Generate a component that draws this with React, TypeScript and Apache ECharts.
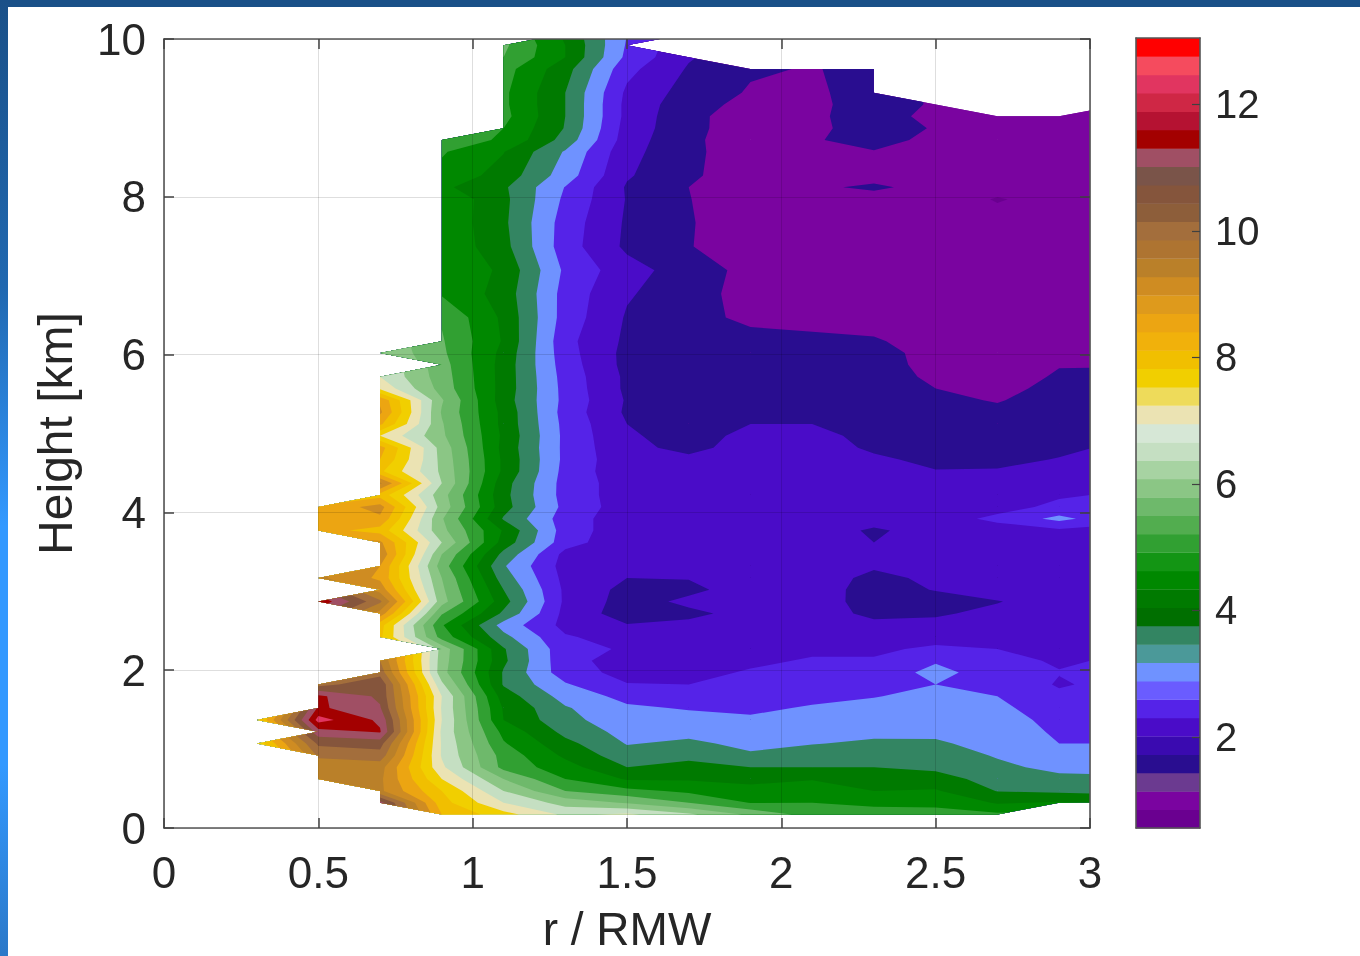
import React, { useEffect, useRef } from "react";
import * as echarts from "echarts";

const N = null;

// radial positions (r / RMW) of the data columns
const rCols = [0.3, 0.5, 0.7, 0.9, 1.1, 1.3, 1.5, 1.7, 1.9, 2.1, 2.3, 2.5, 2.7, 2.9, 3.1];

// heights (km) of the data rows
const zRows = [
  0.17, 0.32, 0.47, 0.62, 0.77, 0.92, 1.07, 1.22, 1.37, 1.52, 1.67, 1.82, 1.97, 2.12, 2.27, 2.42, 2.57, 2.72, 2.87, 3.02,
  3.17, 3.32, 3.47, 3.62, 3.77, 3.92, 4.07, 4.22, 4.37, 4.52, 4.67, 4.82, 4.97, 5.12, 5.27, 5.42, 5.57, 5.72, 5.87, 6.02,
  6.17, 6.47, 6.77, 7.07, 7.37, 7.67, 7.97, 8.12, 8.27, 8.57, 8.72, 8.87, 9.02, 9.17, 9.32, 9.62, 9.77, 9.92, 10.07,
];

// field values, one row per height
const fieldValues: (number | null)[][] = [
  [N, N, N, 8.5, 7.7, 6.9, 7.1, 6.6, 5.9, 5.3, 5.2, 5.15, 5.1, N, N],
  [N, N, 11.2, 8.2, 7.0, 6.3, 5.95, 5.5, 4.98, 5.0, 4.9, 4.9, 4.45, 4.55, 4.4],
  [N, N, 9.6, 8.0, 6.5, 5.5, 5.15, 4.9, 4.68, 4.75, 4.5, 4.55, 3.98, 3.9, 3.85],
  [N, 10.0, 9.6, 7.5, 6.0, 5.0, 4.45, 4.45, 4.35, 4.47, 4.25, 4.2, 3.8, 3.62, 3.58],
  [N, 9.7, 9.7, 7.1, 5.35, 4.7, 4.0, 4.15, 4.0, 4.0, 4.0, 3.9, 3.6, 3.38, 3.35],
  [N, 10.1, 10.3, 6.95, 5.3, 4.4, 3.7, 3.88, 3.57, 3.73, 3.78, 3.75, 3.46, 3.25, 3.2],
  [7.6, 10.6, 10.7, 6.95, 5.05, 4.15, 3.47, 3.6, 3.37, 3.48, 3.57, 3.55, 3.37, 3.0, 3.0],
  [N, 11.3, 11.55, 6.9, 4.85, 3.85, 3.33, 3.36, 3.2, 3.33, 3.4, 3.42, 3.28, 2.92, 2.9],
  [7.8, 12.2, 11.4, 7.0, 4.5, 3.65, 3.2, 3.17, 3.06, 3.2, 3.27, 3.3, 3.2, 2.85, 2.82],
  [N, 11.6, 11.05, 6.95, 4.45, 3.55, 3.08, 2.96, 2.92, 3.04, 3.13, 3.22, 3.1, 2.75, 2.75],
  [N, 11.6, 10.9, 7.0, 4.25, 3.3, 2.85, 2.72, 2.8, 2.9, 2.98, 3.12, 3.0, 2.6, 2.7],
  [N, 10.3, 10.9, 6.6, 3.95, 3.05, 2.52, 2.5, 2.67, 2.8, 2.85, 3.0, 2.88, 2.45, 2.65],
  [N, N, 10.3, 6.2, 3.95, 2.72, 2.35, 2.35, 2.55, 2.67, 2.7, 3.15, 2.75, 2.52, 2.6],
  [N, N, 10.0, 6.25, 4.1, 2.65, 2.3, 2.25, 2.4, 2.55, 2.55, 2.95, 2.63, 2.45, 2.55],
  [N, N, N, 6.3, 4.05, 2.65, 2.45, 2.2, 2.25, 2.4, 2.4, 2.6, 2.5, 2.35, 2.4],
  [N, N, 8.1, 5.3, 3.65, 2.55, 2.3, 2.2, 2.2, 2.25, 2.2, 2.3, 2.25, 2.2, 2.2],
  [N, N, 8.2, 5.05, 3.3, 2.35, 2.03, 2.1, 2.2, 2.2, 2.15, 2.1, 2.15, 2.2, 2.2],
  [N, N, 9.3, 5.55, 3.9, 2.35, 1.75, 1.9, 2.15, 2.3, 1.85, 1.95, 2.1, 2.2, 2.2],
  [N, 11.9, 10.1, 6.2, 4.2, 2.4, 1.8, 2.1, 2.2, 2.35, 1.7, 1.75, 1.98, 2.2, 2.25],
  [N, N, 9.3, 6.1, 4.0, 2.4, 1.85, 1.9, 2.2, 2.3, 1.75, 2.03, 2.2, 2.25, 2.25],
  [N, 9.6, 8.9, 6.0, 3.75, 2.35, 2.0, 2.02, 2.1, 2.2, 1.9, 2.08, 2.2, 2.25, 2.25],
  [N, N, 9.0, 5.75, 3.55, 2.3, 2.1, 2.1, 2.15, 2.15, 2.05, 2.1, 2.25, 2.25, 2.25],
  [N, N, 9.4, 6.0, 3.85, 2.35, 2.15, 2.1, 2.15, 2.2, 2.15, 2.1, 2.25, 2.3, 2.3],
  [N, N, 9.1, 6.5, 4.3, 2.7, 2.15, 2.2, 2.2, 2.2, 2.0, 2.15, 2.3, 2.35, 2.35],
  [N, 8.7, 8.3, 6.15, 4.45, 2.75, 2.2, 2.2, 2.25, 2.25, 1.93, 2.2, 2.3, 2.4, 2.4],
  [N, 8.8, 8.9, 6.05, 3.95, 2.75, 2.2, 2.25, 2.25, 2.25, 2.2, 2.3, 2.6, 3.15, 2.6],
  [N, 8.6, 9.2, 6.3, 4.2, 2.85, 2.25, 2.3, 2.3, 2.3, 2.25, 2.3, 2.35, 2.6, 2.55],
  [N, N, 8.3, 6.2, 4.15, 2.8, 2.25, 2.3, 2.3, 2.3, 2.3, 2.3, 2.3, 2.45, 2.55],
  [N, N, 9.6, 6.5, 4.2, 2.8, 2.25, 2.25, 2.3, 2.3, 2.3, 2.2, 2.2, 2.3, 2.3],
  [N, N, 8.1, 6.4, 4.4, 2.83, 2.15, 2.15, 2.2, 2.25, 2.2, 2.02, 2.05, 2.2, 2.3],
  [N, N, 8.5, 6.35, 4.4, 2.87, 2.15, 2.08, 2.25, 2.25, 2.07, 1.9, 1.85, 2.03, 2.25],
  [N, N, 8.7, 6.3, 4.35, 2.87, 2.1, 1.9, 2.15, 2.2, 1.93, 1.85, 1.8, 1.88, 2.1],
  [N, N, 7.5, 6.1, 4.4, 2.87, 2.05, 1.85, 2.1, 2.1, 1.9, 1.82, 1.78, 1.8, 1.9],
  [N, N, 8.6, 6.05, 4.35, 2.85, 2.0, 1.87, 2.0, 2.0, 1.85, 1.75, 1.72, 1.78, 1.85],
  [N, N, 9.1, 5.95, 4.35, 2.8, 1.92, 1.85, 1.8, 1.75, 1.7, 1.65, 1.6, 1.72, 1.8],
  [N, N, 8.9, 6.05, 4.25, 2.85, 1.95, 1.82, 1.77, 1.72, 1.65, 1.6, 1.47, 1.7, 1.75],
  [N, N, 7.4, 5.8, 4.3, 2.83, 1.9, 1.78, 1.72, 1.67, 1.62, 1.5, 1.38, 1.62, 1.7],
  [N, N, 7.0, 5.75, 4.3, 2.8, 1.9, 1.75, 1.7, 1.65, 1.62, 1.45, 1.3, 1.55, 1.58],
  [N, N, N, 5.7, 4.3, 2.75, 1.85, 1.72, 1.68, 1.62, 1.6, 1.42, 1.22, 1.48, 1.48],
  [N, N, 6.45, 5.6, 4.35, 2.7, 1.85, 1.72, 1.65, 1.6, 1.6, 1.4, 1.2, 1.3, 1.3],
  [N, N, N, 5.55, 4.45, 2.65, 1.9, 1.75, 1.65, 1.6, 1.55, 1.3, 1.2, 1.2, 1.2],
  [N, N, N, 5.45, 4.4, 2.78, 1.95, 1.65, 1.4, 1.35, 1.3, 1.2, 1.1, 1.1, 1.1],
  [N, N, N, 4.95, 4.3, 2.8, 2.05, 1.72, 1.3, 1.2, 1.1, 1.1, 1.1, 1.1, 1.1],
  [N, N, N, 4.95, 4.4, 2.9, 2.2, 1.75, 1.35, 1.2, 1.1, 1.1, 1.1, 1.1, 1.1],
  [N, N, N, 4.9, 4.17, 2.73, 1.9, 1.53, 1.15, 1.1, 1.1, 1.1, 1.1, 1.1, 1.1],
  [N, N, N, 4.9, 4.1, 2.77, 1.93, 1.55, 1.1, 1.1, 1.1, 1.1, 1.1, 1.1, 1.1],
  [N, N, N, 4.9, 4.13, 2.9, 1.97, 1.52, 1.1, 1.15, 1.2, 1.15, 0.98, 1.1, 1.1],
  [N, N, N, 4.6, 4.08, 2.98, 1.95, 1.5, 1.1, 1.38, 1.62, 1.25, 1.1, 1.1, 1.1],
  [N, N, N, 4.85, 4.3, 3.25, 2.05, 1.62, 1.1, 1.15, 1.25, 1.1, 1.1, 1.1, 1.1],
  [N, N, N, 5.05, 4.52, 3.45, 2.16, 1.62, 1.2, 1.3, 1.47, 1.2, 1.15, 1.15, 1.15],
  [N, N, N, 5.2, 4.95, 3.8, 2.25, 1.59, 1.25, 1.45, 1.7, 1.35, 1.2, 1.2, 1.2],
  [N, N, N, N, 5.0, 3.97, 2.29, 1.65, 1.2, 1.35, 1.8, 1.45, 1.25, 1.25, 1.25],
  [N, N, N, N, 5.15, 4.0, 2.35, 1.63, 1.25, 1.38, 1.8, 1.3, 1.25, 1.25, 1.25],
  [N, N, N, N, 5.1, 4.0, 2.35, 1.7, 1.35, 1.4, 1.7, 1.45, N, N, 1.25],
  [N, N, N, N, 5.1, 4.0, 2.4, 1.8, 1.45, 1.42, 1.7, N, N, N, N],
  [N, N, N, N, 5.2, 4.2, 2.65, 1.95, 1.56, 1.47, 1.65, N, N, N, N],
  [N, N, N, N, 5.5, 4.5, 2.88, 2.05, N, N, N, N, N, N, N],
  [N, N, N, N, 5.6, 4.5, 2.95, N, N, N, N, N, N, N, N],
  [N, N, N, N, N, 4.4, 3.0, 2.6, N, N, N, N, N, N, N],
];

// filled-contour levels and the colour of the band that starts at each one
const contourLevels = [0.5, 1, 1.5, 2, 2.5, 3, 3.5, 4, 4.5, 5, 5.5, 6, 6.5, 7, 7.5, 8, 8.5, 9, 9.5, 10, 10.5, 11, 11.5, 12, 12.5];
const contourColors = [
  "#6a0090", "#7a04a0", "#290d90", "#4a0cc8", "#5523e8", "#6f92ff", "#338562", "#007a00", "#008800", "#31a032",
  "#6eb96b", "#8bc685", "#c5dfc2", "#ebe3b3", "#f1cf00", "#f1bf00", "#eca512", "#cf8c22", "#ba8029", "#a36e3c",
  "#85553c", "#a04f64", "#a30000", "#e13560", "#f54b5e",
];

// colour bar, bottom to top
const colorbarColors = [
  "#6a0090", "#7a04a0", "#6b3a90", "#290d90", "#3a0ab0", "#4a0cc8", "#5523e8", "#6a5cff", "#6f92ff", "#4b9999",
  "#338562", "#006f00", "#007a00", "#008800", "#139514", "#31a032", "#52ad4f", "#6eb96b", "#8bc685", "#a7d3a2",
  "#c5dfc2", "#d6e7d6", "#ebe3b3", "#eedb5a", "#f1cf00", "#f1bf00", "#f1b10b", "#eca512", "#de9a1c", "#cf8c22",
  "#ba8029", "#ae7431", "#a36e3c", "#8d5e3a", "#85553c", "#7a5449", "#a04f64", "#a30000", "#b51232", "#cf2745",
  "#e13560", "#f54b5e", "#ff0000",
];
const colorbarMin = 0.56;
const colorbarMax = 13.05;
const colorbarTicks = [2, 4, 6, 8, 10, 12];

type P = { r: number; z: number; v: number };

function clipAbove(poly: P[], level: number): P[] {
  const out: P[] = [];
  for (let i = 0; i < poly.length; i++) {
    const a = poly[i];
    const b = poly[(i + 1) % poly.length];
    const aIn = a.v >= level;
    const bIn = b.v >= level;
    if (aIn) out.push(a);
    if (aIn !== bIn) {
      const t = (level - a.v) / (b.v - a.v);
      out.push({ r: a.r + t * (b.r - a.r), z: a.z + t * (b.z - a.z), v: level });
    }
  }
  return out;
}

function cellPolygons(): P[][] {
  const cells: P[][] = [];
  for (let j = 0; j < zRows.length - 1; j++) {
    for (let i = 0; i < rCols.length - 1; i++) {
      const corners: [number, number][] = [[i, j], [i + 1, j], [i + 1, j + 1], [i, j + 1]];
      const poly: P[] = [];
      corners.forEach(([ci, cj]) => {
        const v = fieldValues[cj][ci];
        if (v !== null) poly.push({ r: rCols[ci], z: zRows[cj], v });
      });
      if (poly.length >= 3) cells.push(poly);
    }
  }
  return cells;
}

const font = "Liberation Sans";
const textColor = "#262626";
const lineColor = "#555555";
const tickColor = "#404040";

export default function App() {
  const ref = useRef<HTMLDivElement>(null);
  useEffect(() => {
    const chart = echarts.init(ref.current!, undefined, { renderer: "svg" });
    const cells = cellPolygons();
    const tickStyle = { show: true, inside: true, length: 10, lineStyle: { color: tickColor, width: 1.5 } };
    const axLine = { show: true, onZero: false, lineStyle: { color: lineColor, width: 1.6 } };
    const noLine = { show: false };
    const gridLine = { show: true, lineStyle: { color: "rgba(0,0,0,0.13)", width: 1 } };
    const mainX = { type: "value", gridIndex: 0, min: 0, max: 3, interval: 0.5, z: 5 };
    const mainY = { type: "value", gridIndex: 0, min: 0, max: 10, interval: 2, z: 5 };
    const barX = { type: "value", gridIndex: 1, min: 0, max: 1, z: 5, axisTick: noLine, axisLabel: noLine, splitLine: noLine, axisLine: axLine };
    const barY = { type: "value", gridIndex: 1, min: colorbarMin, max: colorbarMax, z: 5, splitLine: noLine, axisLine: axLine };

    chart.setOption({
      animation: false,
      backgroundColor: "#ffffff",
      grid: [
        { left: 164, top: 39, width: 926, height: 789, outerBoundsMode: "none" },
        { left: 1136, top: 38, width: 64, height: 790, outerBoundsMode: "none" },
      ],
      xAxis: [
        {
          ...mainX,
          position: "bottom",
          axisLine: axLine,
          axisTick: tickStyle,
          splitLine: gridLine,
          axisLabel: { color: textColor, fontFamily: font, fontSize: 44, margin: 22 },
          name: "r / RMW",
          nameLocation: "middle",
          nameGap: 81,
          nameTextStyle: { color: textColor, fontFamily: font, fontSize: 46, lineHeight: 40 },
        },
        { ...mainX, position: "top", axisLine: axLine, axisTick: tickStyle, axisLabel: noLine, splitLine: noLine },
        { ...barX, position: "bottom" },
        { ...barX, position: "top" },
      ],
      yAxis: [
        {
          ...mainY,
          position: "left",
          axisLine: axLine,
          axisTick: tickStyle,
          splitLine: gridLine,
          axisLabel: { color: textColor, fontFamily: font, fontSize: 44, margin: 18, padding: [3, 0, 0, 0] },
          name: "Height [km]",
          nameLocation: "middle",
          nameRotate: 90,
          nameGap: 85,
          nameTextStyle: { color: textColor, fontFamily: font, fontSize: 48 },
        },
        { ...mainY, position: "right", axisLine: axLine, axisTick: tickStyle, axisLabel: noLine, splitLine: noLine },
        {
          ...barY,
          position: "right",
          axisTick: { show: true, inside: true, length: 8, customValues: colorbarTicks, lineStyle: { color: tickColor, width: 1.2 } },
          axisLabel: { show: true, customValues: colorbarTicks, color: textColor, fontFamily: font, fontSize: 40, margin: 15 },
        },
        { ...barY, position: "left", axisTick: noLine, axisLabel: noLine },
      ],
      series: [
        {
          type: "custom",
          xAxisIndex: 0,
          yAxisIndex: 0,
          clip: true,
          silent: true,
          z: 2,
          data: contourLevels.map((l) => [0, l]),
          encode: { x: 0, y: 1 },
          renderItem: (params: any, api: any) => {
            const level = contourLevels[params.dataIndex];
            let d = "";
            cells.forEach((poly) => {
              const clipped = clipAbove(poly, level);
              if (clipped.length < 3) return;
              clipped.forEach((p, k) => {
                const c = api.coord([p.r, p.z]);
                d += `${k === 0 ? "M" : "L"}${c[0].toFixed(2)} ${c[1].toFixed(2)}`;
              });
              d += "Z";
            });
            if (!d) return null;
            return {
              type: "path",
              shape: { pathData: d },
              style: { fill: contourColors[params.dataIndex], stroke: null },
            };
          },
        },
        {
          type: "custom",
          xAxisIndex: 2,
          yAxisIndex: 2,
          silent: true,
          z: 2,
          data: colorbarColors.map((_, i) => [0, i]),
          encode: { x: 0, y: 1 },
          renderItem: (params: any, api: any) => {
            const i = params.dataIndex;
            const step = (colorbarMax - colorbarMin) / colorbarColors.length;
            const a = api.coord([0, colorbarMin + i * step]);
            const b = api.coord([1, colorbarMin + (i + 1) * step]);
            return {
              type: "rect",
              shape: { x: a[0], y: b[1], width: b[0] - a[0], height: a[1] - b[1] + 0.4 },
              style: { fill: colorbarColors[i] },
            };
          },
        },
      ],
    });
    return () => chart.dispose();
  }, []);

  return (
    <div style={{ position: "fixed", left: 0, top: 0, width: 1360, height: 956, overflow: "hidden", background: "#fff" }}>
      <div ref={ref} style={{ position: "absolute", left: 0, top: 0, width: 1360, height: 956, filter: "blur(0.7px)" }} />
      <div style={{ position: "absolute", left: 0, top: 0, width: 1360, height: 7, background: "#1a5088" }} />
      <div
        style={{
          position: "absolute",
          left: 0,
          top: 0,
          width: 8,
          height: 956,
          background: "linear-gradient(180deg, #1a5088 0%, #2068b0 30%, #3399ff 55%, #3399ff 80%, #2b78c8 100%)",
        }}
      />
    </div>
  );
}
